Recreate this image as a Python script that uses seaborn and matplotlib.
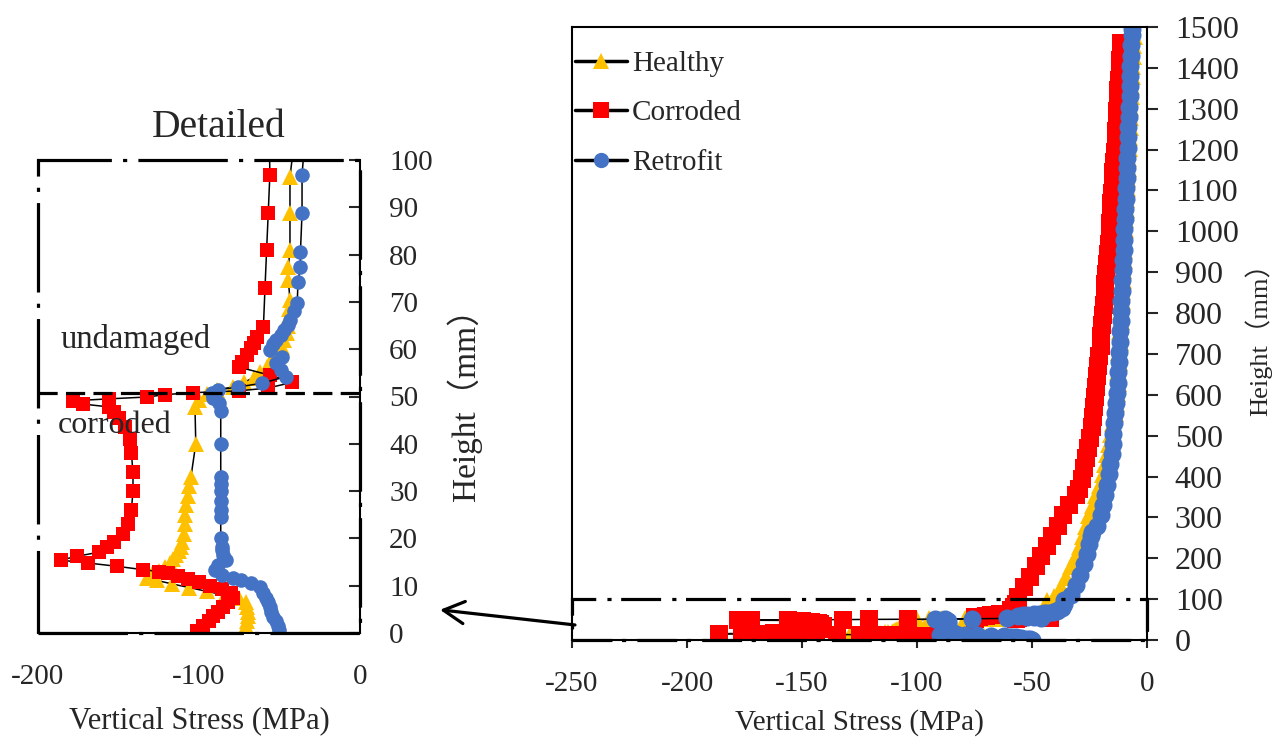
import numpy as np
import pandas as pd
import seaborn as sns
import matplotlib.pyplot as plt
from matplotlib.patches import Rectangle

# Height (mm) and vertical stress (MPa)
healthy_h = [0.5, 1.5, 2.5, 3.5, 4.5, 5.5, 6.5, 7.3, 8.0, 8.8, 9.6, 10.4, 11.1, 11.7, 12.4,
             13.2, 14.0, 14.8, 15.6, 16.4, 17.3, 18.2, 19.2, 21, 23, 25, 27, 29, 31, 33,
             40, 47.8, 49.3, 50.5, 51.4, 52, 53, 54, 55.2, 56.2, 57.7, 59, 60.5, 62, 63.4,
             65, 66.5, 68.5, 70.4, 74.6, 77.4, 81, 88.8, 96.4,
             105, 130, 155, 180, 205, 230, 255, 280, 305, 330, 355, 380, 405, 430, 455,
             480, 505, 530, 555, 580, 605, 630, 655, 680, 705, 730, 755, 780, 805, 830,
             855, 880, 905, 930, 955, 980, 1005, 1030, 1055, 1080, 1105, 1130, 1155,
             1180, 1205, 1230, 1255, 1280, 1305, 1330, 1355, 1380, 1405, 1430, 1455, 1478]
healthy_s = [-71, -70.5, -70, -69.5, -69.5, -70, -71, -75, -84, -95, -106, -117, -126, -132, -129,
             -125, -121, -118, -116, -114, -112.5, -111, -110.5, -109.5, -109, -108.5, -108, -107, -106.5, -105,
             -102, -102.5, -100, -95, -89, -79, -72, -66, -62, -58, -55, -51.5, -48.5, -47, -45.5,
             -45, -44.5, -44, -43.5, -44.5, -44.5, -43.5, -43.5, -43.5,
             -40.5, -37.6, -35.4, -33.0, -31.0, -29.3, -27.8, -26.4, -25.2, -23.5, -22.0, -20.5, -19.2, -18.2, -17.3,
             -16.6, -15.6, -14.8, -14.1, -13.6, -13.2, -12.7, -12.4, -12.2, -12.0, -11.8, -11.6, -11.4, -11.2, -11.0,
             -10.8, -10.6, -10.4, -10.2, -10.0, -9.8, -9.6, -9.4, -9.2, -9.0, -8.8, -8.6, -8.4,
             -8.2, -8.0, -7.8, -7.6, -7.4, -7.2, -7.0, -6.8, -6.6, -6.4, -6.2, -6.0, -5.7]

corroded_h = [0.5, 1.5, 2.5, 3.5, 4.5, 5.5, 6.5, 7.5, 8.4, 9.2, 10.0, 10.8, 11.5, 12.1, 12.6,
              13.0, 13.4, 14.1, 14.8, 15.4, 16.2, 17.1, 18.2, 19.2, 21, 23, 26, 30, 34, 38,
              41, 43.5, 45.5, 46.8, 47.8, 48.4, 49.1, 49.5, 49.9, 50.4, 50.8, 51.2, 51.8, 53.0,
              54.5, 56.2, 57.3, 58.7, 60.2, 61.3, 62.6, 64.7, 73, 81, 88.8, 96.8,
              105, 130, 155, 180, 205, 230, 255, 280, 305, 330, 355, 370, 395, 420, 445,
              470, 495, 520, 545, 570, 595, 620, 645, 670, 695, 720, 745, 770, 795, 820,
              845, 870, 895, 920, 945, 970, 995, 1020, 1045, 1070, 1095, 1120, 1145, 1170,
              1195, 1220, 1245, 1270, 1295, 1320, 1345, 1370, 1395, 1420, 1445, 1460]
corroded_s = [-101, -97.5, -94, -91, -88, -85, -82, -79, -80, -86, -93, -100, -107, -113, -119,
              -125, -135, -151, -169, -186, -176, -162, -157, -153, -147, -144, -142, -141, -141, -142,
              -143, -146, -150, -153, -156, -172, -178, -156, -132, -121, -104, -75, -57, -42,
              -56, -75, -73, -70, -68, -66, -64, -60, -59, -58, -57, -56,
              -56.3, -53.5, -51, -48.3, -45.9, -43.4, -41.1, -38.7, -36.4, -33.8, -31, -29.6, -28.3, -27.4, -26.4,
              -25.5, -24.6, -24, -23.5, -23.1, -22.7, -22.2, -21.8, -21.2, -20.7, -20.2, -19.8, -19.4, -19.0, -18.7,
              -18.4, -18.1, -17.7, -17.4, -17.0, -16.7, -16.3, -16.1, -15.8, -15.5, -15.2, -14.9, -14.6, -14.2,
              -13.9, -13.6, -13.4, -13.1, -12.9, -12.6, -12.4, -12.1, -11.9, -11.6, -11.4, -11.2]

retrofit_h = [0.6, 1.5, 2.5, 3.4, 4.5, 5.5, 6.5, 7.5, 8.5, 9.7, 10.5, 11.2, 11.6, 12.3, 13.3,
              14.3, 15.4, 16.5, 17.5, 18.2, 20, 24.5, 26, 28, 30, 31.5, 33, 40, 47, 48.6,
              49.6, 50.7, 51.4, 52, 52.8, 54.2, 55.5, 57, 58.4, 59.8, 61, 62, 63, 64, 65.2,
              66.2, 68, 69.8, 74.2, 77.4, 80.5, 88.8, 96.8,
              110, 135, 160, 185, 210, 235, 255, 265, 280, 305, 330, 355, 380, 405, 430,
              455, 480, 505, 530, 555, 580, 605, 630, 655, 680, 705, 730, 755, 780, 805,
              830, 855, 880, 905, 930, 955, 980, 1005, 1030, 1055, 1080, 1105, 1130, 1155,
              1180, 1205, 1230, 1255, 1280, 1305, 1330, 1355, 1380, 1405, 1430, 1455, 1480, 1495]
retrofit_s = [-50, -51, -52, -54, -55, -56, -57, -58.5, -60, -62, -68, -74, -79, -86, -90,
              -88, -83, -85, -86, -86, -86.5, -86.5, -86.5, -86.5, -86.5, -86.5, -86.5, -86.5, -86.5, -87.5,
              -91, -92, -88, -76, -61, -46, -49, -52, -48.5, -56, -54, -52, -49, -47, -45,
              -43.5, -41, -39, -38.5, -37, -37, -36, -36,
              -33, -30.8, -29, -27.5, -26.3, -25.3, -24.3, -23.8, -21.8, -20.2, -19.2, -18.3, -17.3, -16.6, -16.0,
              -15.4, -15.0, -14.6, -14.2, -13.8, -13.4, -13.1, -12.8, -12.5, -12.3, -12.1, -11.9, -11.7, -11.5, -11.3,
              -11.1, -10.9, -10.7, -10.5, -10.3, -10.1, -9.9, -9.8, -9.6, -9.4, -9.2, -9.1, -8.9, -8.7,
              -8.5, -8.4, -8.2, -8.1, -7.9, -7.8, -7.6, -7.5, -7.3, -7.2, -7.0, -6.8, -6.6, -6.5]

# name, heights, stresses, marker, colour, marker size (detailed view, full view)
series = [
    ("Healthy", healthy_h, healthy_s, "^", "#FFC000", (11, 13)),
    ("Corroded", corroded_h, corroded_s, "s", "#FF0000", (10, 12.5)),
    ("Retrofit", retrofit_h, retrofit_s, "o", "#4472C4", (10.5, 13)),
]

sns.set_style("ticks")
plt.rcParams["font.family"] = ["Liberation Serif", "Noto Sans CJK JP"]
plt.rcParams["axes.unicode_minus"] = False
plt.rcParams["font.size"] = 21

W, H = 1278, 740
fig = plt.figure(figsize=(W / 100, H / 100), dpi=100)
ax1 = fig.add_axes([38 / W, 107 / H, 322 / W, 473 / H])
ax2 = fig.add_axes([572 / W, 100 / H, 575 / W, 613 / H])

for i, ax in enumerate((ax1, ax2)):
    for name, h, s, m, c, ms in series:
        df = pd.DataFrame({"stress": s, "height": h})
        sns.lineplot(data=df, x="stress", y="height", sort=False, estimator=None,
                     color="black", lw=1.1, marker=m, markersize=ms[i],
                     markerfacecolor=c, markeredgecolor=c, markeredgewidth=0,
                     label=name, legend=False, ax=ax)

# --- detailed view
ax1.set_xlim(-200, 0)
ax1.set_ylim(0, 100)
ax1.set_xticks([-200, -100, 0])
ax1.set_yticks(range(0, 101, 10))
ax1.yaxis.tick_right()
ax1.yaxis.set_label_position("right")
ax1.tick_params(axis="y", direction="in", length=8, width=1.5, pad=21, labelsize=21)
ax1.tick_params(axis="x", length=0, pad=22, labelsize=21)
for sp in ["left", "top"]:
    ax1.spines[sp].set_visible(False)
for sp in ["right", "bottom"]:
    ax1.spines[sp].set_linewidth(1.5)
    ax1.spines[sp].set_color("black")
ax1.add_patch(Rectangle((0, 0), 1, 1, transform=ax1.transAxes, fill=False, lw=2.3,
                        ls=(0, (28, 3.5, 1.3, 3.5)), ec="black", clip_on=False, zorder=5))
ax1.axhline(50.7, color="black", lw=2.3, ls=(0, (6, 2.6)), zorder=5)
ax1.text(-186, 62, "undamaged", fontsize=23.5, va="center", ha="left")
ax1.text(-188, 43.8, "corroded", fontsize=23, va="center", ha="left")
ax1.text(0.562, 1.068, "Detailed", transform=ax1.transAxes, ha="center", va="center", fontsize=28.5)
ax1.set_xlabel("Vertical Stress (MPa)", fontsize=22, labelpad=12)
ax1.set_ylabel("Height（mm）", fontsize=24, labelpad=10)

# --- full height view
ax2.set_xlim(-250, 0)
ax2.set_ylim(0, 1500)
ax2.set_xticks(range(-250, 1, 50))
ax2.set_yticks(range(0, 1501, 100))
ax2.yaxis.tick_right()
ax2.yaxis.set_label_position("right")
ax2.tick_params(axis="y", direction="out", length=8, width=1.5, pad=12, labelsize=23)
ax2.tick_params(axis="x", direction="out", length=6, width=1.5, pad=16, labelsize=21)
for sp in ax2.spines.values():
    sp.set_linewidth(1.5)
    sp.set_color("black")
ax2.add_patch(Rectangle((-250, 0), 250, 100, fill=False, lw=2.3, ls=(0, (12.5, 3, 1.3, 3.5)),
                        ec="black", clip_on=False, zorder=5))
ax2.set_xlabel("Vertical Stress (MPa)", fontsize=21, labelpad=9)
ax2.set_ylabel("Height（mm）", fontsize=19, labelpad=4)

leg = ax2.legend(loc="upper left", bbox_to_anchor=(0.005, 0.962), frameon=False,
                 borderaxespad=0, borderpad=0, handlelength=1.8, handletextpad=0.15,
                 labelspacing=0.8, fontsize=21)
for ln in leg.get_lines():
    ln.set_linewidth(2.5)
    ln.set_markersize(11)

# arrow pointing from the boxed zone to the detailed view
ax2.annotate("", xy=(49.7, 4.9), xycoords=ax1.transData,
             xytext=(-248.7, 36.8), textcoords=ax2.transData,
             arrowprops=dict(arrowstyle="->,head_length=0.75,head_width=0.4",
                             lw=2.3, color="black", mutation_scale=20,
                             shrinkA=0, shrinkB=0),
             annotation_clip=False)

fig.savefig("out.png", dpi=100)
